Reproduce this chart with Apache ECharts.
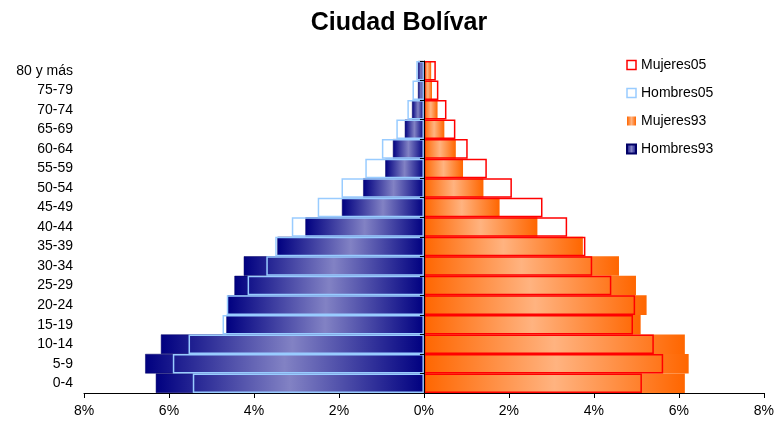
<!DOCTYPE html>
<html>
<head>
<meta charset="utf-8">
<script src="https://cdn.jsdelivr.net/npm/echarts@6/dist/echarts.min.js"></script>
<style>
  html, body { margin: 0; padding: 0; background: #fff; }
  #chart { width: 777px; height: 422px; }
</style>
</head>
<body>
<div id="chart"></div>
<script>
// age groups, bottom to top
const ages = ['0-4', '5-9', '10-14', '15-19', '20-24', '25-29', '30-34', '35-39', '40-44',
  '45-49', '50-54', '55-59', '60-64', '65-69', '70-74', '75-79', '80 y más']

// percent of population (men read on the left side)
const hombres93 = [6.31, 6.56, 6.19, 4.65, 4.62, 4.46, 4.24, 3.45, 2.79, 1.93, 1.43, 0.91, 0.73, 0.45, 0.28, 0.14, 0.14]
const mujeres93 = [6.14, 6.23, 6.14, 5.10, 5.24, 4.99, 4.59, 3.74, 2.67, 1.78, 1.40, 0.92, 0.75, 0.48, 0.32, 0.19, 0.17]
const hombres05 = [5.44, 5.91, 5.54, 4.74, 4.64, 4.15, 3.71, 3.50, 3.11, 2.50, 1.94, 1.38, 0.99, 0.65, 0.39, 0.27, 0.18]
const mujeres05 = [5.13, 5.63, 5.41, 4.92, 4.97, 4.41, 3.96, 3.80, 3.37, 2.79, 2.07, 1.48, 1.03, 0.74, 0.53, 0.34, 0.28]

const xTicks = [-8, -6, -4, -2, 0, 2, 4, 6, 8]

const font = 'Liberation Sans, Arial, sans-serif'
const neg = arr => arr.map(v => -v)

function bandGradient(edge, mid) {
  return new echarts.graphic.LinearGradient(0, 0, 1, 0, [
    { offset: 0, color: edge },
    { offset: 0.5, color: mid },
    { offset: 1, color: edge }
  ])
}
const blueFill = bandGradient('#000080', '#8282c4')
const orangeFill = bandGradient('#ff6600', '#ffb380')

const chart = echarts.init(document.getElementById('chart'))
chart.setOption({
  animation: false,
  backgroundColor: '#fff',
  textStyle: { fontFamily: font },
  title: {
    text: 'Ciudad Bolívar',
    left: 394,
    textAlign: 'center',
    top: 6,
    textStyle: { fontFamily: font, fontSize: 25, fontWeight: 'bold', color: '#000' }
  },
  legend: {
    orient: 'vertical',
    left: 621,
    top: 53,
    itemWidth: 9,
    itemHeight: 9,
    itemGap: 14,
    icon: 'rect',
    textStyle: { fontFamily: font, fontSize: 14, color: '#000' },
    data: [
      { name: 'Mujeres05', itemStyle: { color: '#fff', borderColor: '#ff0000', borderWidth: 1.5 } },
      { name: 'Hombres05', itemStyle: { color: '#fff', borderColor: '#99ccff', borderWidth: 1.5 } },
      { name: 'Mujeres93', itemStyle: { color: orangeFill } },
      { name: 'Hombres93', itemStyle: { color: blueFill } }
    ]
  },
  grid: { left: 84, right: 12, top: 61, bottom: 29 },
  xAxis: {
    type: 'value',
    min: -8,
    max: 8,
    interval: 2,
    splitLine: { show: false },
    axisLine: { show: true, onZero: false, lineStyle: { color: '#000', width: 1 } },
    axisTick: { show: true, length: 5, lineStyle: { color: '#000' } },
    axisLabel: {
      color: '#000',
      fontSize: 14,
      margin: 11,
      formatter: v => xTicks.indexOf(v) >= 0 ? Math.abs(v) + '%' : ''
    }
  },
  yAxis: [
    {
      type: 'category',
      data: ages,
      axisLine: { show: false, onZero: false },
      axisTick: { show: false },
      axisLabel: { color: '#000', fontSize: 14, margin: 11 }
    },
    {
      // vertical axis line through 0%, drawn over the bars
      type: 'category',
      data: ages,
      position: 'left',
      z: 5,
      axisLine: { show: true, onZero: true, onZeroAxisIndex: 0, lineStyle: { color: '#000' } },
      axisTick: { show: true, length: 4, lineStyle: { color: '#000' } },
      axisLabel: { show: false }
    }
  ],
  series: [
    {
      name: 'Hombres93',
      type: 'bar',
      data: neg(hombres93),
      barGap: '-100%',
      barCategoryGap: 0,
      itemStyle: { color: blueFill, borderColor: '#000066', borderWidth: 0.5 }
    },
    {
      name: 'Mujeres93',
      type: 'bar',
      data: mujeres93,
      barGap: '-100%',
      barCategoryGap: 0,
      itemStyle: { color: orangeFill }
    },
    {
      name: 'Hombres05',
      type: 'bar',
      data: neg(hombres05),
      barGap: '-100%',
      barCategoryGap: 0,
      itemStyle: { color: 'rgba(0,0,0,0)', borderColor: '#99ccff', borderWidth: 1.5 }
    },
    {
      name: 'Mujeres05',
      type: 'bar',
      data: mujeres05,
      barGap: '-100%',
      barCategoryGap: 0,
      itemStyle: { color: 'rgba(0,0,0,0)', borderColor: '#ff0000', borderWidth: 1.5 }
    }
  ]
})
</script>
</body>
</html>
